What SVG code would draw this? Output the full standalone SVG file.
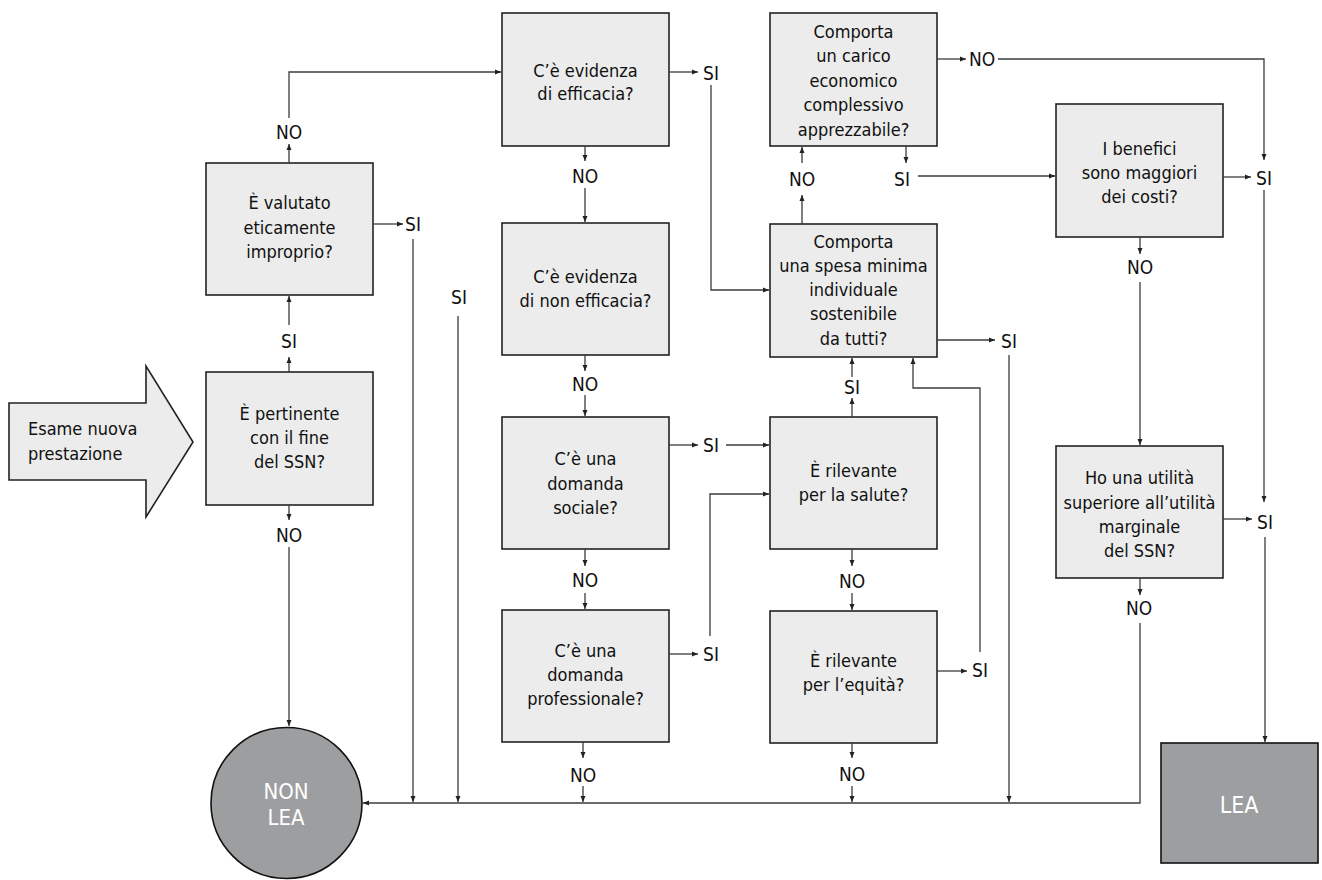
<svg xmlns="http://www.w3.org/2000/svg" width="1322" height="880" viewBox="0 0 1322 880">
<style>
.bx{fill:#ebeceb;stroke:#222;stroke-width:1.6}
.dk{fill:#9d9ea0;stroke:#111;stroke-width:1.6}
text{font-family:'Liberation Sans Narrow','Arial Narrow','DejaVu Sans Condensed','Liberation Sans',sans-serif;fill:#111}
.t{font-size:18px;text-anchor:middle}
.l{font-size:19px;text-anchor:middle}
.w{font-size:22px;text-anchor:middle;fill:#fff}
.cn path{fill:none;stroke:#3c3c3c;stroke-width:1.3}
</style>
<defs>
<marker id="ah" viewBox="0 0 6 6" refX="6" refY="3" markerWidth="6" markerHeight="6" orient="auto" markerUnits="userSpaceOnUse"><path d="M0,0.5 L6,3 L0,5.5 z" fill="#222"/></marker>
</defs>
<g id="start">
<path d="M9,403 H146 V366 L193,442 L146,517 V480 H9 Z" class="bx"/>
<text x="28" y="435" style="font-size:18px">Esame nuova</text>
<text x="28" y="460" style="font-size:18px">prestazione</text>
</g>
<g id="n_pertinente"><rect x="206" y="372" width="167" height="133" class="bx"/>
<text class="t" x="289.5" y="420">È pertinente</text><text class="t" x="289.5" y="444">con il fine</text><text class="t" x="289.5" y="468">del SSN?</text></g>
<g id="n_etico"><rect x="206" y="163" width="167" height="132" class="bx"/>
<text class="t" x="289.5" y="209">È valutato</text><text class="t" x="289.5" y="233.5">eticamente</text><text class="t" x="289.5" y="258">improprio?</text></g>
<g id="n_efficacia"><rect x="502" y="13" width="167" height="133" class="bx"/>
<text class="t" x="585.5" y="77">C’è evidenza</text><text class="t" x="585.5" y="100">di efficacia?</text></g>
<g id="n_nonefficacia"><rect x="502" y="223" width="167" height="132" class="bx"/>
<text class="t" x="585.5" y="283">C’è evidenza</text><text class="t" x="585.5" y="307">di non efficacia?</text></g>
<g id="n_sociale"><rect x="502" y="417" width="167" height="132" class="bx"/>
<text class="t" x="585.5" y="465">C’è una</text><text class="t" x="585.5" y="489.5">domanda</text><text class="t" x="585.5" y="514">sociale?</text></g>
<g id="n_professionale"><rect x="502" y="610" width="167" height="132" class="bx"/>
<text class="t" x="585.5" y="657">C’è una</text><text class="t" x="585.5" y="681">domanda</text><text class="t" x="585.5" y="705">professionale?</text></g>
<g id="n_carico"><rect x="770" y="13" width="167" height="133" class="bx"/>
<text class="t" x="853.5" y="37.5">Comporta</text><text class="t" x="853.5" y="62">un carico</text><text class="t" x="853.5" y="86.5">economico</text><text class="t" x="853.5" y="111">complessivo</text><text class="t" x="853.5" y="135.5">apprezzabile?</text></g>
<g id="n_spesa"><rect x="770" y="224" width="167" height="133" class="bx"/>
<text class="t" x="853.5" y="248">Comporta</text><text class="t" x="853.5" y="272">una spesa minima</text><text class="t" x="853.5" y="296">individuale</text><text class="t" x="853.5" y="320">sostenibile</text><text class="t" x="853.5" y="345">da tutti?</text></g>
<g id="n_salute"><rect x="770" y="417" width="167" height="132" class="bx"/>
<text class="t" x="853.5" y="477">È rilevante</text><text class="t" x="853.5" y="501">per la salute?</text></g>
<g id="n_equita"><rect x="770" y="611" width="167" height="132" class="bx"/>
<text class="t" x="853.5" y="667">È rilevante</text><text class="t" x="853.5" y="691">per l’equità?</text></g>
<g id="n_benefici"><rect x="1056" y="104" width="167" height="133" class="bx"/>
<text class="t" x="1139.5" y="155">I benefici</text><text class="t" x="1139.5" y="179">sono maggiori</text><text class="t" x="1139.5" y="203">dei costi?</text></g>
<g id="n_utilita"><rect x="1056" y="446" width="167" height="132" class="bx"/>
<text class="t" x="1139.5" y="484">Ho una utilità</text><text class="t" x="1139.5" y="508.5">superiore all’utilità</text><text class="t" x="1139.5" y="533">marginale</text><text class="t" x="1139.5" y="557">del SSN?</text></g>
<g id="n_nonlea"><circle cx="286.5" cy="803" r="75.5" class="dk"/>
<text class="w" x="286" y="799">NON</text><text class="w" x="286" y="825">LEA</text></g>
<g id="n_lea"><rect x="1161" y="743" width="157" height="120" class="dk"/>
<text class="w" x="1239" y="813" style="font-size:23px">LEA</text></g>
<g id="connectors" class="cn">
<path d="M289,505 V520" marker-end="url(#ah)"/><path d="M289,547 V726" marker-end="url(#ah)"/>
<path d="M289,372 V357" marker-end="url(#ah)"/><path d="M289,325 V296" marker-end="url(#ah)"/>
<path d="M289,163 V144" marker-end="url(#ah)"/><path d="M289,118 V72 H501" marker-end="url(#ah)"/>
<path d="M373,224 H403" marker-end="url(#ah)"/><path d="M413,239 V802" marker-end="url(#ah)"/>
<path d="M458,316 V802" marker-end="url(#ah)"/>
<path d="M669,72 H698" marker-end="url(#ah)"/><path d="M711,85 V290 H769" marker-end="url(#ah)"/>
<path d="M585,146 V161" marker-end="url(#ah)"/><path d="M585,188 V222" marker-end="url(#ah)"/>
<path d="M585,355 V371" marker-end="url(#ah)"/><path d="M585,395 V416" marker-end="url(#ah)"/>
<path d="M669,445 H698" marker-end="url(#ah)"/><path d="M726,445 H769" marker-end="url(#ah)"/>
<path d="M585,549 V566" marker-end="url(#ah)"/><path d="M585,593 V609" marker-end="url(#ah)"/>
<path d="M669,654 H698" marker-end="url(#ah)"/><path d="M710,636 V494 H769" marker-end="url(#ah)"/>
<path d="M583,742 V758" marker-end="url(#ah)"/><path d="M583,786 V802" marker-end="url(#ah)"/>
<path d="M852,417 V398" marker-end="url(#ah)"/><path d="M852,377 V358" marker-end="url(#ah)"/>
<path d="M852,549 V566" marker-end="url(#ah)"/><path d="M852,593 V610" marker-end="url(#ah)"/>
<path d="M937,671 H967" marker-end="url(#ah)"/><path d="M980,652 V388 H913 V358" marker-end="url(#ah)"/>
<path d="M852,743 V758" marker-end="url(#ah)"/><path d="M852,786 V802" marker-end="url(#ah)"/>
<path d="M937,340 H995" marker-end="url(#ah)"/><path d="M1009,355 V802" marker-end="url(#ah)"/>
<path d="M802,224 V195" marker-end="url(#ah)"/><path d="M802,163 V147" marker-end="url(#ah)"/>
<path d="M937,59 H966" marker-end="url(#ah)"/><path d="M998,59 H1264 V160" marker-end="url(#ah)"/>
<path d="M906,146 V163" marker-end="url(#ah)"/><path d="M918,176 H1055" marker-end="url(#ah)"/>
<path d="M1223,177 H1251" marker-end="url(#ah)"/>
<path d="M1264,190 V502" marker-end="url(#ah)"/><path d="M1265,537 V742" marker-end="url(#ah)"/>
<path d="M1140,237 V254" marker-end="url(#ah)"/><path d="M1140,282 V445" marker-end="url(#ah)"/>
<path d="M1223,519 H1252" marker-end="url(#ah)"/>
<path d="M1140,578 V595" marker-end="url(#ah)"/><path d="M1140,623 V803 H363" marker-end="url(#ah)"/>
</g>
<g id="labels">
<text class="l" x="289" y="542">NO</text>
<text class="l" x="289" y="348">SI</text>
<text class="l" x="289" y="139">NO</text>
<text class="l" x="413" y="231">SI</text>
<text class="l" x="459" y="304">SI</text>
<text class="l" x="711" y="80">SI</text>
<text class="l" x="585" y="183">NO</text>
<text class="l" x="585" y="391">NO</text>
<text class="l" x="711" y="452">SI</text>
<text class="l" x="585" y="587">NO</text>
<text class="l" x="711" y="661">SI</text>
<text class="l" x="583" y="782">NO</text>
<text class="l" x="852" y="394">SI</text>
<text class="l" x="852" y="588">NO</text>
<text class="l" x="980" y="677">SI</text>
<text class="l" x="852" y="781">NO</text>
<text class="l" x="1009" y="348">SI</text>
<text class="l" x="802" y="186">NO</text>
<text class="l" x="982" y="66">NO</text>
<text class="l" x="902" y="186">SI</text>
<text class="l" x="1264" y="185">SI</text>
<text class="l" x="1265" y="529">SI</text>
<text class="l" x="1140" y="274">NO</text>
<text class="l" x="1139" y="615">NO</text>
</g>
</svg>
